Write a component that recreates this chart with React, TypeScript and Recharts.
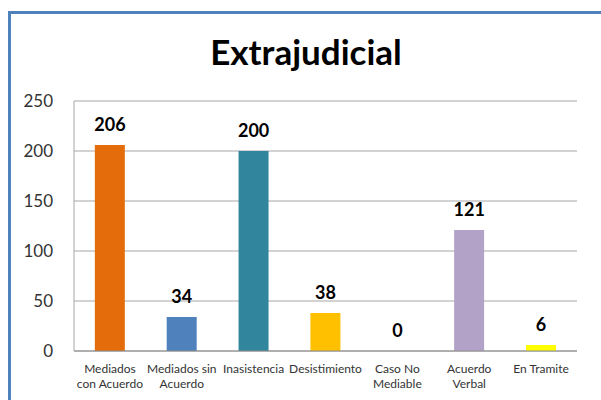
import React from 'react';
import {Bar, CartesianGrid, Cell, ComposedChart, LabelList, Line, XAxis, YAxis} from 'recharts';

const categories = [
    'Mediados con Acuerdo',
    'Mediados sin Acuerdo',
    'Inasistencia',
    'Desistimiento',
    'Caso No Mediable',
    'Acuerdo Verbal',
    'En Tramite',
];
const values = [206, 34, 200, 38, 0, 121, 6];
const colors = ['#E46C0A', '#4F81BD', '#31859C', '#FFC000', '#8064A2', '#B3A2C7', '#FFFF00'];
const yTicks = [0, 50, 100, 150, 200, 250];

// two-line labels, split the way the source chart wraps them
const labelLines: Record<string, string[]> = {
    'Mediados con Acuerdo': ['Mediados', 'con Acuerdo'],
    'Mediados sin Acuerdo': ['Mediados sin', 'Acuerdo'],
    'Inasistencia': ['Inasistencia'],
    'Desistimiento': ['Desistimiento'],
    'Caso No Mediable': ['Caso No', 'Mediable'],
    'Acuerdo Verbal': ['Acuerdo', 'Verbal'],
    'En Tramite': ['En Tramite'],
};

const data = categories.map((name, i) => ({name, value: values[i]}));

const FONT = 'Lato, "Noto Sans", sans-serif';

const XTick = ({x, y, payload}: any) => {
    const lines = labelLines[payload.value] ?? [payload.value];
    return (
        <g transform={`translate(${x},${y})`}>
            {lines.map((l, i) => (
                <text key={i} x={0} y={14 + i * 15} textAnchor="middle" fontSize={12} fill="#333" fontFamily={FONT}>
                    {l}
                </text>
            ))}
        </g>
    );
};

export default function App() {
    return (
        <div style={{position: 'fixed', left: 0, top: 0, width: 601, height: 400, overflow: 'hidden', background: '#fff'}}>
            <div style={{
                position: 'absolute', left: 8, top: 11, width: 640, height: 440,
                border: '3px solid #4F81BD', boxSizing: 'border-box', background: '#fff',
            }}/>
            <div style={{
                position: 'absolute', left: 0, width: 612, top: 29, textAlign: 'center',
                fontFamily: FONT, fontWeight: 700, fontSize: 35, color: '#000', lineHeight: '44px',
            }}>
                Extrajudicial
            </div>
            <div style={{position: 'absolute', left: 0, top: 0}}>
                <ComposedChart
                    width={601}
                    height={400}
                    data={data}
                    margin={{top: 101, right: 24, bottom: 0, left: 24}}
                    barCategoryGap="29%"
                >
                    <CartesianGrid vertical={false} stroke="#A6A6A6"/>
                    <XAxis
                        dataKey="name"
                        interval={0}
                        height={49}
                        tickLine={false}
                        axisLine={{stroke: '#8C8C8C'}}
                        tick={<XTick/>}
                    />
                    <YAxis
                        width={50}
                        domain={[0, 250]}
                        ticks={yTicks}
                        tickLine={false}
                        axisLine={{stroke: '#A6A6A6'}}
                        tick={{fontSize: 17, fill: '#333', fontFamily: FONT}}
                        tickMargin={15}
                    />
                    <Bar dataKey="value" isAnimationActive={false}>
                        {data.map((d, i) => (
                            <Cell key={d.name} fill={colors[i]}/>
                        ))}
                    </Bar>
                    {/* invisible line carries the value labels so that the zero bar gets one too */}
                    <Line
                        dataKey="value"
                        stroke="none"
                        dot={false}
                        activeDot={false}
                        isAnimationActive={false}
                    >
                        <LabelList
                            dataKey="value"
                            position="top"
                            offset={14}
                            fontSize={18}
                            fontWeight={700}
                            fill="#000"
                            fontFamily={FONT}
                        />
                    </Line>
                </ComposedChart>
            </div>
        </div>
    );
}
